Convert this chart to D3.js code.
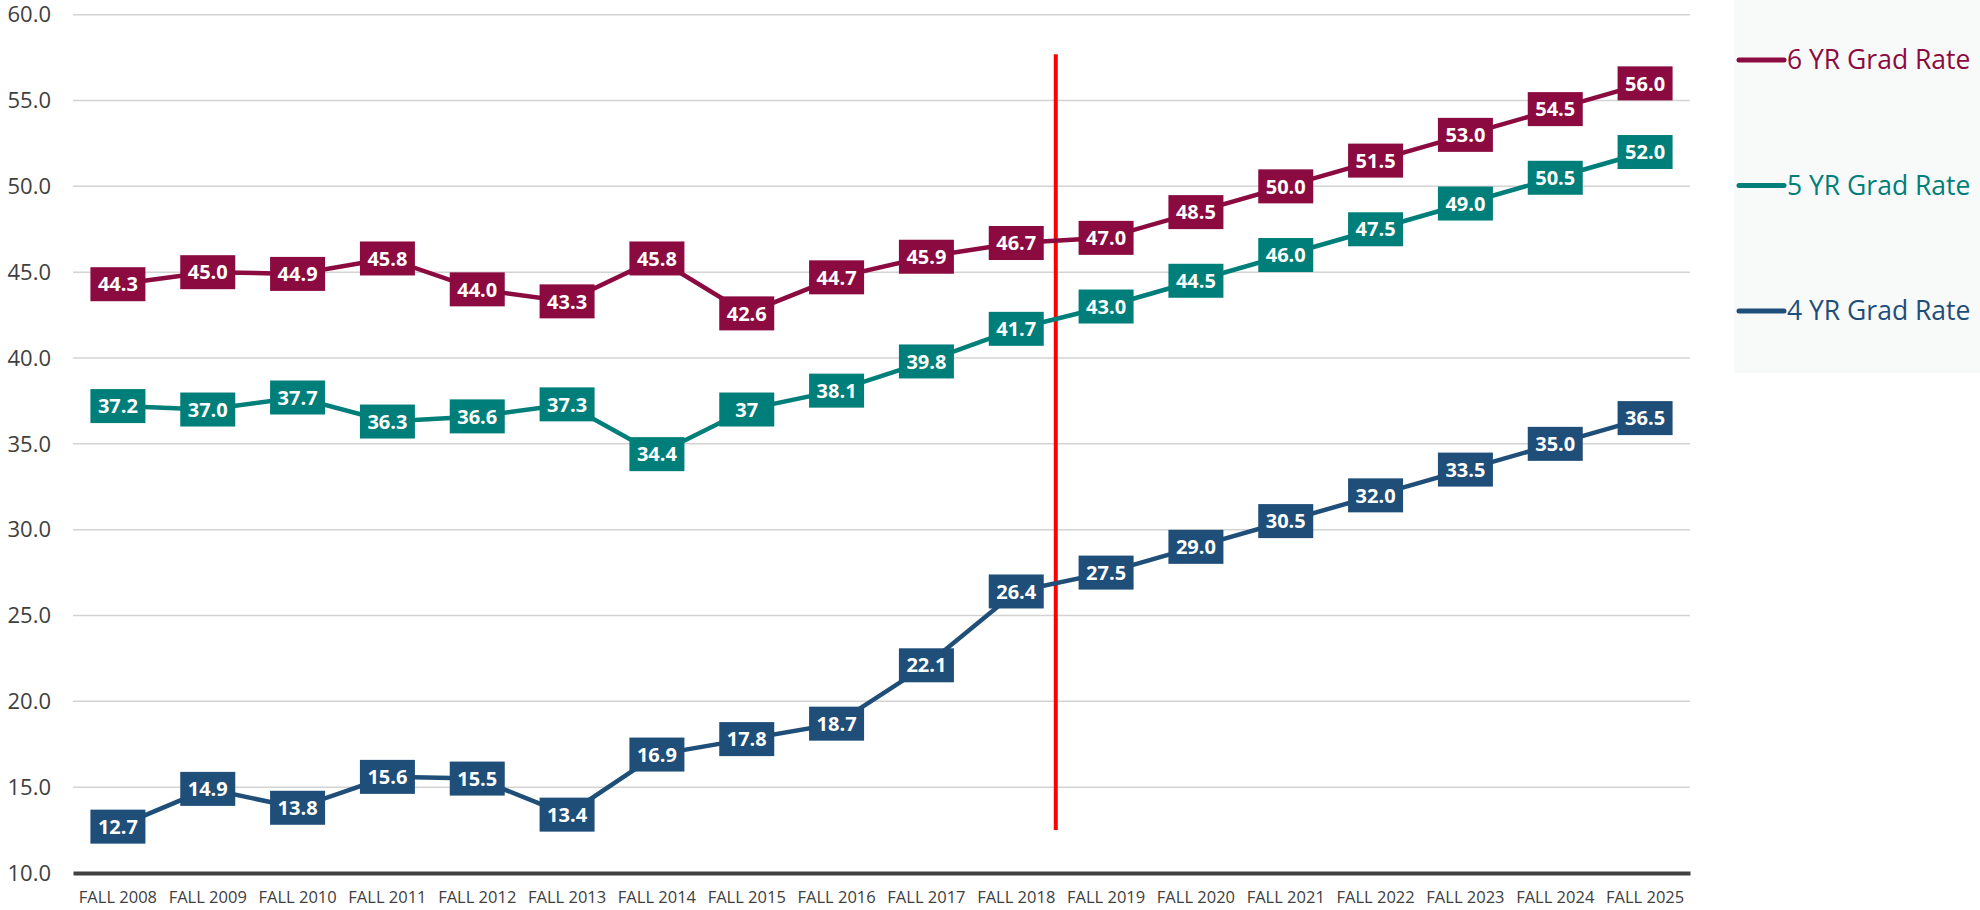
<!DOCTYPE html>
<html>
<head>
<meta charset="utf-8">
<script src="https://cdn.jsdelivr.net/npm/d3@7"></script>
<style>
  body { margin: 0; background: #fff; }
  text { font-family: "Open Sans", "Noto Sans", sans-serif; }
</style>
</head>
<body>
<div id="chart"></div>
<script>
// Define data

var years = ["FALL 2008", "FALL 2009", "FALL 2010", "FALL 2011", "FALL 2012", "FALL 2013",
  "FALL 2014", "FALL 2015", "FALL 2016", "FALL 2017", "FALL 2018", "FALL 2019",
  "FALL 2020", "FALL 2021", "FALL 2022", "FALL 2023", "FALL 2024", "FALL 2025"];

var rate6 = [44.3, 45.0, 44.9, 45.8, 44.0, 43.3, 45.8, 42.6, 44.7, 45.9, 46.7, 47.0, 48.5, 50.0, 51.5, 53.0, 54.5, 56.0];
var rate5 = [37.2, 37.0, 37.7, 36.3, 36.6, 37.3, 34.4, 37, 38.1, 39.8, 41.7, 43.0, 44.5, 46.0, 47.5, 49.0, 50.5, 52.0];
var rate4 = [12.7, 14.9, 13.8, 15.6, 15.5, 13.4, 16.9, 17.8, 18.7, 22.1, 26.4, 27.5, 29.0, 30.5, 32.0, 33.5, 35.0, 36.5];

// the 2015 5 yr label shows without a decimal
var labelOverride5 = {7: "37"};

var yTicks = [10, 15, 20, 25, 30, 35, 40, 45, 50, 55, 60];
var seriesNames = ["6 YR Grad Rate", "5 YR Grad Rate", "4 YR Grad Rate"];
var seriesColors = ["#8b0b40", "#007f7a", "#1f4e79"];

var series = [
  {name: seriesNames[0], values: rate6, color: seriesColors[0], override: {}},
  {name: seriesNames[1], values: rate5, color: seriesColors[1], override: labelOverride5},
  {name: seriesNames[2], values: rate4, color: seriesColors[2], override: {}}
];

var W = 1980, H = 910;
var margin = {top: 14.7, right: 290, bottom: 37, left: 73};
var width = W - margin.left - margin.right;
var height = H - margin.top - margin.bottom;

var svg = d3.select("#chart")
  .append("svg")
  .attr("width", W)
  .attr("height", H);

// legend panel
svg.append("rect")
  .attr("x", 1734).attr("y", 0)
  .attr("width", W - 1734).attr("height", 373)
  .attr("fill", "#f8f9f9");

var g = svg.append("g")
  .attr("transform", `translate(${margin.left}, ${margin.top})`);

// Define scales

var xScale = d3.scaleBand()
  .domain(years)
  .range([0, width]);

var yScale = d3.scaleLinear()
  .domain([10, 60])
  .range([height, 0]);

function cx(i) { return xScale(years[i]) + xScale.bandwidth() / 2; }

// gridlines
g.selectAll(".grid")
  .data(yTicks.filter(function(d) { return d > 10; }))
  .enter().append("line")
  .attr("x1", 0).attr("x2", width)
  .attr("y1", function(d) { return yScale(d); })
  .attr("y2", function(d) { return yScale(d); })
  .attr("stroke", "#d3d3d3")
  .attr("stroke-width", 1.5);

// y axis labels
g.selectAll(".ylab")
  .data(yTicks)
  .enter().append("text")
  .attr("x", -22)
  .attr("y", function(d) { return yScale(d); })
  .attr("dy", "0.35em")
  .attr("text-anchor", "end")
  .attr("fill", "#404040")
  .style("font-size", "22px")
  .text(function(d) { return d.toFixed(1); });

// x axis
var xAxis = g.append("g")
  .attr("transform", `translate(0, ${height})`)
  .call(d3.axisBottom(xScale).tickSize(0).tickPadding(18));
xAxis.select(".domain").attr("stroke", "#404040").attr("stroke-width", 4);
xAxis.selectAll("text")
  .attr("fill", "#404040")
  .style("font-size", "16.5px")
  .style("font-family", "'Open Sans', sans-serif");

// red divider between 2018 and 2019
var dividerX = cx(10) + xScale.step() * 0.44;
g.append("line")
  .attr("x1", dividerX).attr("x2", dividerX)
  .attr("y1", yScale(57.7)).attr("y2", yScale(12.5))
  .attr("stroke", "#ff0000")
  .attr("stroke-width", 4);

// Draw lines

var line = d3.line()
  .x(function(d, i) { return cx(i); })
  .y(function(d) { return yScale(d); });

g.selectAll(".series")
  .data(series)
  .enter().append("path")
  .attr("d", function(s) { return line(s.values); })
  .attr("fill", "none")
  .attr("stroke", function(s) { return s.color; })
  .attr("stroke-width", 4.5);

// Draw labels

var boxW = 55, boxH = 34;
series.forEach(function(s) {
  var lab = g.append("g").selectAll("g")
    .data(s.values)
    .enter().append("g")
    .attr("transform", function(d, i) { return `translate(${cx(i)}, ${yScale(d)})`; });
  lab.append("rect")
    .attr("x", -boxW / 2).attr("y", -boxH / 2)
    .attr("width", boxW).attr("height", boxH)
    .attr("fill", s.color);
  lab.append("text")
    .attr("text-anchor", "middle")
    .attr("dy", "0.36em")
    .attr("fill", "#fff")
    .style("font-size", "20px")
    .style("font-weight", "bold")
    .text(function(d, i) { return s.override[i] !== undefined ? s.override[i] : d.toFixed(1); });
});

// Legend

var legend = svg.append("g").selectAll("g")
  .data(series)
  .enter().append("g")
  .attr("transform", function(d, i) { return `translate(1739, ${60 + i * 125.5})`; });
legend.append("line")
  .attr("x1", 0).attr("x2", 45)
  .attr("stroke", function(d) { return d.color; })
  .attr("stroke-width", 5)
  .attr("stroke-linecap", "round");
legend.append("text")
  .attr("x", 48)
  .attr("dy", "0.35em")
  .attr("fill", function(d) { return d.color; })
  .style("font-size", "26.5px")
  .text(function(d) { return d.name; });
</script>
</body>
</html>
